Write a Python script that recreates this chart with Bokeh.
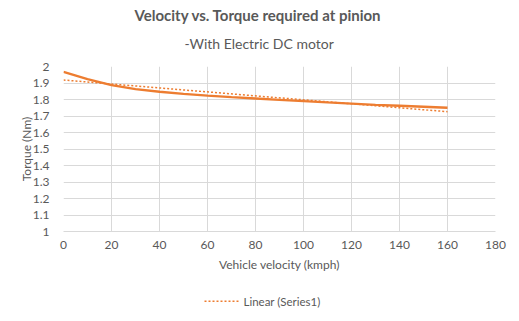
from bokeh.plotting import figure
from bokeh.models import Range1d, FixedTicker, NumeralTickFormatter, Title
from bokeh.layouts import column
from bokeh.core.properties import value
from bokeh.embed import file_html
from bokeh.resources import INLINE

# Data
velocity = [0, 10, 20, 30, 40, 50, 60, 70, 80, 90, 100, 110, 120, 130, 140, 150, 160]
torque = [1.967, 1.924, 1.887, 1.863, 1.847, 1.834, 1.823, 1.814, 1.806, 1.798,
          1.790, 1.782, 1.775, 1.768, 1.762, 1.756, 1.750]
trend_x = [0, 160]
trend_y = [1.918, 1.726]
x_ticks = [0, 20, 40, 60, 80, 100, 120, 140, 160, 180]
y_ticks = [1.0, 1.1, 1.2, 1.3, 1.4, 1.5, 1.6, 1.7, 1.8, 1.9, 2.0]
title_text = "Velocity vs. Torque required at pinion"
subtitle_text = "-With Electric DC motor"
x_label = "Vehicle velocity (kmph)"
y_label = "Torque (Nm)"
legend_label = "Linear (Series1)"

FONT = "Lato"
ORANGE = "#ED7D31"
GRAY_TXT = "#595959"

p = figure(width=519, height=285, output_backend="svg", toolbar_location=None,
           x_range=Range1d(0, 180), y_range=Range1d(1, 2),
           min_border_left=63, min_border_right=24, min_border_top=66, min_border_bottom=54)
p.title.visible = False
p.outline_line_color = None
p.background_fill_color = "white"
p.border_fill_color = "white"

p.add_layout(Title(text=subtitle_text, align="left", offset=121, text_font=FONT,
                   text_font_size="14px", text_font_style="normal",
                   text_color=GRAY_TXT, standoff=29), "above")
p.add_layout(Title(text=title_text, align="left", offset=71, text_font=FONT,
                   text_font_size="15px", text_font_style="bold",
                   text_color=GRAY_TXT, standoff=-11), "above")

p.xaxis.ticker = FixedTicker(ticks=x_ticks)
p.yaxis.ticker = FixedTicker(ticks=y_ticks)
p.yaxis.formatter = NumeralTickFormatter(format="0.[0]")
p.xgrid.grid_line_color = "#d9d9d9"
p.ygrid.grid_line_color = "#d9d9d9"

for ax in (p.xaxis[0], p.yaxis[0]):
    ax.major_tick_line_color = None
    ax.minor_tick_line_color = None
    ax.major_label_text_font = FONT
    ax.major_label_text_font_size = "12px"
    ax.major_label_text_color = GRAY_TXT
    ax.axis_label_text_font = FONT
    ax.axis_label_text_font_size = "12px"
    ax.axis_label_text_font_style = "normal"
    ax.axis_label_text_color = GRAY_TXT
p.xaxis.axis_line_color = "#d9d9d9"
p.yaxis.axis_line_color = None
p.xaxis.axis_label = x_label
p.yaxis.axis_label = y_label
p.xaxis.major_label_standoff = 3
p.xaxis.axis_label_standoff = 5
p.yaxis.major_label_standoff = 8
p.yaxis.axis_label_standoff = -4

p.line(velocity, torque, line_color=ORANGE, line_width=2.3)
p.line(trend_x, trend_y, line_color=ORANGE, line_width=1.5, line_dash="2 2")

# legend strip (page-pixel coordinates; frame is aligned with the main frame 63..495)
leg = figure(width=519, height=36, output_backend="svg", toolbar_location=None,
             x_range=Range1d(63, 495), y_range=Range1d(0, 36),
             x_axis_location=None, y_axis_location=None, min_border=0)
leg.title.visible = False
leg.grid.visible = False
leg.outline_line_color = None
leg.border_fill_color = "white"
leg.line([204, 239], [20.3, 20.3], line_color=ORANGE, line_width=1.5, line_dash="2 2")
leg.text([243], [20.3], text=[legend_label], text_font=value(FONT), text_font_size="11.5px",
         text_color=GRAY_TXT, text_baseline="middle", text_align="left")

layout = column(p, leg, spacing=0)
open("out.html", "w").write(file_html(layout, INLINE))
